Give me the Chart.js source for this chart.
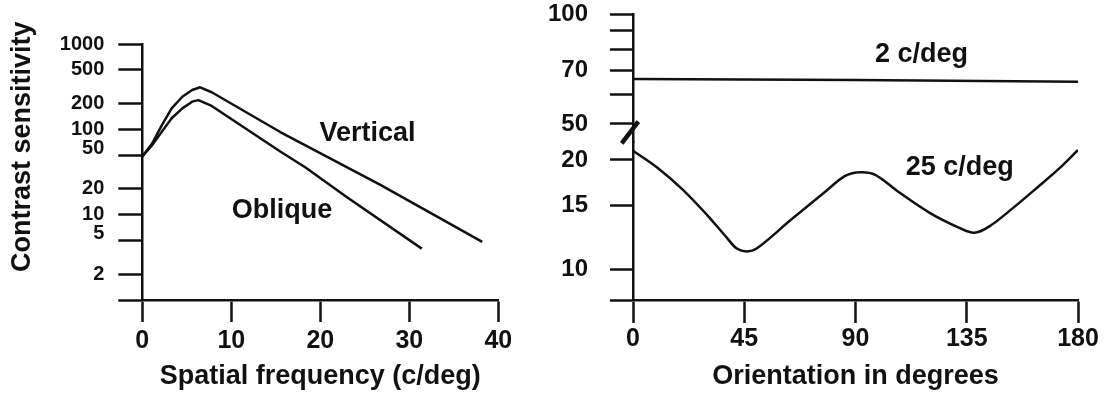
<!DOCTYPE html>
<html>
<head>
<meta charset="utf-8">
<script src="https://cdn.jsdelivr.net/npm/chart.js@4.4.1/dist/chart.umd.min.js"></script>
<style>
  html, body { margin: 0; padding: 0; background: #fff; width: 1109px; height: 401px; overflow: hidden; }
  #left { position: absolute; left: 0; top: 0; }
  #right { position: absolute; left: 530px; top: 0; }
</style>
</head>
<body>
<canvas id="left" width="530" height="401"></canvas>
<canvas id="right" width="579" height="401"></canvas>
<script>
// ---------- Left panel data ----------
const spatialFreqVertical = [0, 1.1, 2.2, 3.3, 4.5, 5.6, 6.5, 7.8, 15.5, 26.7, 38.2];
const sensitivityVertical = [48, 68, 112, 176, 241, 289, 311, 272, 93, 22.5, 4.8];
const spatialFreqOblique = [0, 1.1, 2.2, 3.3, 4.5, 5.6, 6.3, 7.8, 15.5, 18.3, 23.0, 31.4];
const sensitivityOblique = [48, 65, 94, 135, 176, 211, 220, 188, 55, 36, 16, 4.0];
const sensitivityTicks = [1, 2, 5, 10, 20, 50, 100, 200, 500, 1000];
const sensitivityTickLabels = ['', '2', '5', '10', '20', '50', '100', '200', '500', '1000'];
const raisedSensitivityLabels = [5, 50];
const spatialFreqTitle = 'Spatial frequency (c/deg)';
const sensitivityTitle = 'Contrast sensitivity';
const leftCurveLabels = ['Vertical', 'Oblique'];
const leftCurveLabelX = [25.3, 15.7];
const leftCurveLabelY = [90, 11.3];

// ---------- Right panel data ----------
const orientation2 = [0, 90, 180];
const sensitivity2 = [66.4, 65.9, 65.2];
const orientation25 = [0, 10, 20, 30, 38, 42, 46, 50, 64, 78, 86, 92, 98, 107, 120, 132, 138, 144, 154, 164, 173, 180];
const sensitivity25 = [21.2, 19.0, 16.6, 14.1, 12.2, 11.4, 11.2, 11.4, 13.7, 16.4, 18.1, 18.5, 18.2, 16.4, 14.3, 13.0, 12.6, 13.1, 14.8, 16.9, 19.1, 21.3];
const upperTicks = [50, 60, 70, 80, 90, 100];
const upperTickLabels = ['50', '', '70', '', '', '100'];
const lowerTicks = [8.23, 10, 15, 20];
const lowerTickLabels = ['', '10', '15', '20'];
const orientationTitle = 'Orientation in degrees';
const rightCurveLabels = ['2 c/deg', '25 c/deg'];
const rightCurveLabelX = [116.7, 132.2];
const rightCurveLabelY = [77.2, 19.0];
const rightCurveLabelAxis = ['yTop', 'yBottom'];

// ---------- Styling ----------
const FONT = "'Liberation Sans', Arial, Helvetica, sans-serif";
const INK = '#111';
Chart.defaults.font.family = FONT;
Chart.defaults.color = INK;

function pts(xs, ys) { return xs.map((x, i) => ({ x: x, y: ys[i] })); }

const textPlugin = {
  id: 'texts',
  afterDatasetsDraw(chart, args, opts) {
    const ctx = chart.ctx;
    ctx.save();
    ctx.fillStyle = INK;
    ctx.strokeStyle = INK;
    ctx.textAlign = 'center';
    ctx.textBaseline = 'middle';
    ctx.font = 'bold 27px ' + FONT;
    (opts.labels || []).forEach(l => {
      const xs = chart.scales.x, ys = chart.scales[l.axis];
      ctx.fillText(l.text, xs.getPixelForValue(l.x), ys.getPixelForValue(l.y));
    });
    if (opts.yTitle) {
      ctx.save();
      ctx.translate(opts.yTitle.cx, opts.yTitle.cy);
      ctx.rotate(-Math.PI / 2);
      ctx.fillText(opts.yTitle.text, 0, 0);
      ctx.restore();
    }
    if (opts.breakMark) {
      const ax = chart.chartArea.left;
      const by = chart.scales.yBottom.top;
      ctx.lineWidth = 4.5;
      ctx.beginPath();
      ctx.moveTo(ax - 11.3, by + 1.3);
      ctx.lineTo(ax + 5.3, by - 20.3);
      ctx.stroke();
    }
    ctx.restore();
  }
};

const axisBorder = { display: true, width: 2.5, color: INK };
function fixY(width) {
  return function (s) { s.width = width; s.paddingTop = 0; s.paddingBottom = 0; };
}

// ---------- Left chart ----------
new Chart(document.getElementById('left'), {
  type: 'line',
  data: {
    datasets: [
      { label: leftCurveLabels[0], data: pts(spatialFreqVertical, sensitivityVertical), xAxisID: 'x', yAxisID: 'y' },
      { label: leftCurveLabels[1], data: pts(spatialFreqOblique, sensitivityOblique), xAxisID: 'x', yAxisID: 'y' }
    ]
  },
  options: {
    responsive: false, animation: false, devicePixelRatio: 1,
    layout: { padding: { left: 0, top: 44, right: 31.7, bottom: 0 } },
    elements: { line: { borderColor: INK, borderWidth: 2.5, tension: 0, fill: false, borderJoinStyle: 'round' }, point: { radius: 0 } },
    plugins: {
      legend: { display: false }, tooltip: { enabled: false },
      texts: {
        labels: leftCurveLabels.map((t, i) => ({ text: t, x: leftCurveLabelX[i], y: leftCurveLabelY[i], axis: 'y' })),
        yTitle: { text: sensitivityTitle, cx: 23, cy: 146.7 }
      }
    },
    scales: {
      x: {
        type: 'linear', min: 0, max: 40,
        ticks: { stepSize: 10, padding: 4, maxRotation: 0, color: INK, font: { size: 25, weight: 'bold' } },
        grid: { drawOnChartArea: false, drawTicks: true, tickLength: 22, tickWidth: 2.5, tickColor: INK },
        border: axisBorder,
        title: { display: true, text: spatialFreqTitle, color: INK, font: { size: 27, weight: 'bold' }, padding: { top: 0, bottom: 8 } },
        afterFit(s) { s.height = 101; }
      },
      y: {
        type: 'logarithmic', min: 1, max: 1000, bounds: 'data',
        afterBuildTicks(s) { s.ticks = sensitivityTicks.map(v => ({ value: v })); },
        ticks: {
          autoSkip: false, padding: 14, color: INK, font: { size: 20, weight: 'bold', lineHeight: 0.7 },
          callback(v) {
            const i = sensitivityTicks.indexOf(v);
            const lab = i >= 0 ? sensitivityTickLabels[i] : '';
            return raisedSensitivityLabels.includes(v) ? [lab, ''] : lab;
          }
        },
        grid: { drawOnChartArea: false, drawTicks: true, tickLength: 24, tickWidth: 2.5, tickColor: INK },
        border: axisBorder,
        afterFit: fixY(142.3)
      }
    }
  },
  plugins: [textPlugin]
});

// ---------- Right chart ----------
new Chart(document.getElementById('right'), {
  type: 'line',
  data: {
    datasets: [
      { label: rightCurveLabels[0], data: pts(orientation2, sensitivity2), xAxisID: 'x', yAxisID: 'yTop', tension: 0 },
      { label: rightCurveLabels[1], data: pts(orientation25, sensitivity25), xAxisID: 'x', yAxisID: 'yBottom', tension: 0.35 }
    ]
  },
  options: {
    responsive: false, animation: false, devicePixelRatio: 1,
    layout: { padding: { left: 0, top: 14, right: 31, bottom: 0 } },
    elements: { line: { borderColor: INK, borderWidth: 2.5, fill: false, borderJoinStyle: 'round' }, point: { radius: 0 } },
    plugins: {
      legend: { display: false }, tooltip: { enabled: false },
      texts: {
        labels: rightCurveLabels.map((t, i) => ({ text: t, x: rightCurveLabelX[i], y: rightCurveLabelY[i], axis: rightCurveLabelAxis[i] })),
        breakMark: true
      }
    },
    scales: {
      x: {
        type: 'linear', min: 0, max: 180,
        ticks: { stepSize: 45, padding: 1, maxRotation: 0, color: INK, font: { size: 25, weight: 'bold' } },
        grid: { drawOnChartArea: false, drawTicks: true, tickLength: 23, tickWidth: 2.5, tickColor: INK },
        border: axisBorder,
        title: { display: true, text: orientationTitle, color: INK, font: { size: 27, weight: 'bold' }, padding: { top: 0, bottom: 8 } },
        afterFit(s) { s.height = 101; }
      },
      yTop: {
        type: 'logarithmic', position: 'left', stack: 'sens', stackWeight: 128, weight: 2,
        min: 44.6, max: 100, bounds: 'data',
        afterBuildTicks(s) { s.ticks = upperTicks.map(v => ({ value: v })); },
        ticks: {
          autoSkip: false, padding: 22, color: INK, font: { size: 24, weight: 'bold' },
          callback(v) { const i = upperTicks.indexOf(v); return i >= 0 ? upperTickLabels[i] : ''; }
        },
        grid: { drawOnChartArea: false, drawTicks: true, tickLength: 23, tickWidth: 2.5, tickColor: INK },
        border: axisBorder,
        afterFit: fixY(103)
      },
      yBottom: {
        type: 'logarithmic', position: 'left', stack: 'sens', stackWeight: 158, weight: 1,
        min: 8.23, max: 22.4, bounds: 'data',
        afterBuildTicks(s) { s.ticks = lowerTicks.map(v => ({ value: v })); },
        ticks: {
          autoSkip: false, padding: 22, color: INK, font: { size: 24, weight: 'bold' },
          callback(v) { const i = lowerTicks.indexOf(v); return i >= 0 ? lowerTickLabels[i] : ''; }
        },
        grid: { drawOnChartArea: false, drawTicks: true, tickLength: 23, tickWidth: 2.5, tickColor: INK },
        border: axisBorder,
        afterFit: fixY(103)
      }
    }
  },
  plugins: [textPlugin]
});
</script>
</body>
</html>
